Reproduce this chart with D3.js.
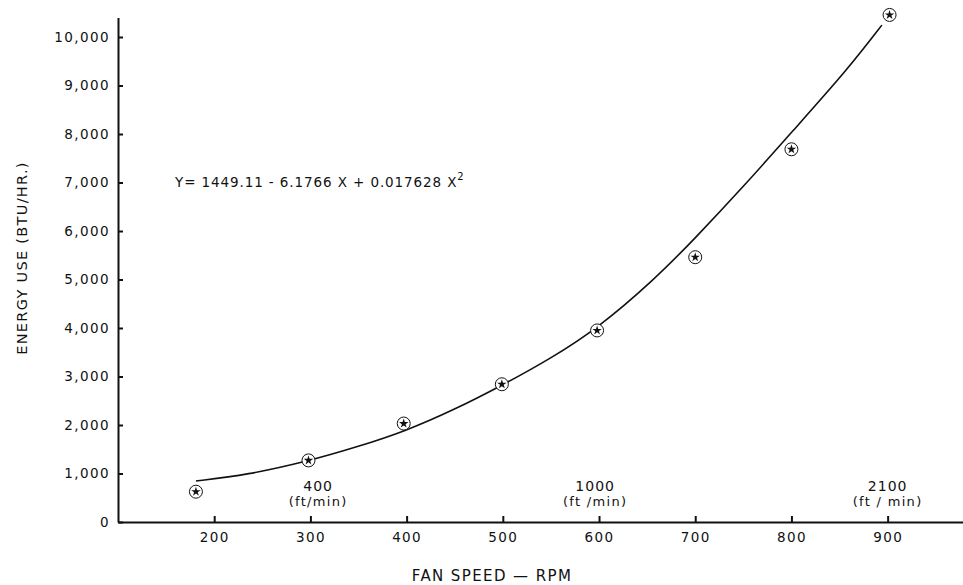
<!DOCTYPE html>
<html>
<head>
<meta charset="utf-8">
<script src="https://cdn.jsdelivr.net/npm/d3@7"></script>
<style>
  body { margin: 0; background: #fff; }
  text { font-family: "DejaVu Sans", sans-serif; fill: #111; }
</style>
</head>
<body>
<div id="chart"></div>
<script>
// measured points (fan speed rpm, energy use btu/hr)
var pointRpm = [181, 298, 397, 499, 598, 700, 800, 902];
var pointEnergy = [625, 1270, 2030, 2840, 3950, 5460, 7685, 10455];

// fitted curve
var curveRpm = [181, 234, 298, 349, 399, 449, 500, 550, 598, 657, 699, 754, 799, 858, 894];
var curveEnergy = [845, 970, 1255, 1550, 1875, 2310, 2825, 3375, 3985, 4990, 5830, 7000, 8010, 9320, 10245];

var xTicks = [200, 300, 400, 500, 600, 700, 800, 900];
var yTicks = [0, 1000, 2000, 3000, 4000, 5000, 6000, 7000, 8000, 9000, 10000];

// air speed notes above the x axis
var noteRpm = [308, 596, 900];
var noteSpeed = ["400", "1000", "2100"];
var noteUnit = ["(ft/min)", "(ft /min)", "(ft / min)"];

var equation = "Y= 1449.11 - 6.1766 X + 0.017628 X";

var width = 963, height = 585;

var svg = d3.select("#chart").append("svg")
  .attr("width", width)
  .attr("height", height);

// scales
var xScale = d3.scaleLinear().domain([100, 980]).range([118, 964.6]);
var yScale = d3.scaleLinear().domain([0, 10400]).range([522, 17.6]);

// axes
var xAxis = d3.axisBottom(xScale)
  .tickValues(xTicks)
  .tickSizeInner(-6)
  .tickSizeOuter(0)
  .tickPadding(10);
var yAxis = d3.axisLeft(yScale)
  .tickValues(yTicks)
  .tickFormat(d3.format(","))
  .tickSizeInner(-5)
  .tickSizeOuter(0)
  .tickPadding(8);

var gx = svg.append("g")
  .attr("transform", "translate(0,522)")
  .call(xAxis);
var gy = svg.append("g")
  .attr("transform", "translate(118,0)")
  .call(yAxis);

[gx, gy].forEach(function (g) {
  g.select(".domain").attr("stroke", "#111").attr("stroke-width", 2);
  g.selectAll(".tick line").attr("stroke", "#111").attr("stroke-width", 2);
  g.selectAll(".tick text")
    .attr("font-family", "DejaVu Sans")
    .attr("font-size", 13.5)
    .attr("letter-spacing", 1.4)
    .attr("fill", "#111");
});

// axis titles
svg.append("text")
  .attr("transform", "translate(27,258)rotate(-90)")
  .attr("text-anchor", "middle")
  .attr("font-size", 14.5)
  .attr("letter-spacing", 1.3)
  .text("ENERGY USE (BTU/HR.)");
svg.append("text")
  .attr("x", 492)
  .attr("y", 581)
  .attr("text-anchor", "middle")
  .attr("font-size", 15)
  .attr("letter-spacing", 1.4)
  .text("FAN SPEED \u2014 RPM");

// regression equation
var eq = svg.append("text")
  .attr("x", 175)
  .attr("y", 187)
  .attr("font-size", 13.5)
  .attr("letter-spacing", 0.9)
  .text(equation);
eq.append("tspan")
  .attr("dy", -7)
  .attr("font-size", 10)
  .text("2");

// air speed notes
noteRpm.forEach(function (r, i) {
  svg.append("text")
    .attr("x", xScale(r))
    .attr("y", 491)
    .attr("text-anchor", "middle")
    .attr("font-size", 14)
    .attr("letter-spacing", 1)
    .text(noteSpeed[i]);
  svg.append("text")
    .attr("x", xScale(r))
    .attr("y", 506)
    .attr("text-anchor", "middle")
    .attr("font-size", 13)
    .attr("letter-spacing", 1.3)
    .text(noteUnit[i]);
});

// fitted curve
var curveData = curveRpm.map(function (r, i) { return {x: r, y: curveEnergy[i]}; });
var line = d3.line()
  .x(function (d) { return xScale(d.x); })
  .y(function (d) { return yScale(d.y); })
  .curve(d3.curveBasis);
svg.append("path")
  .datum(curveData)
  .attr("d", line)
  .attr("fill", "none")
  .attr("stroke", "#111")
  .attr("stroke-width", 1.6);

// points: circled stars
var pts = pointRpm.map(function (r, i) { return {x: r, y: pointEnergy[i]}; });
var marks = svg.selectAll(".pt").data(pts)
  .enter().append("g")
  .attr("class", "pt")
  .attr("transform", function (d) {
    return "translate(" + xScale(d.x) + "," + yScale(d.y) + ")";
  });
marks.append("circle")
  .attr("r", 6.5)
  .attr("fill", "#fff")
  .attr("stroke", "#111")
  .attr("stroke-width", 1);
marks.append("path")
  .attr("d", d3.symbol(d3.symbolStar).size(28))
  .attr("fill", "#111");
</script>
</body>
</html>
